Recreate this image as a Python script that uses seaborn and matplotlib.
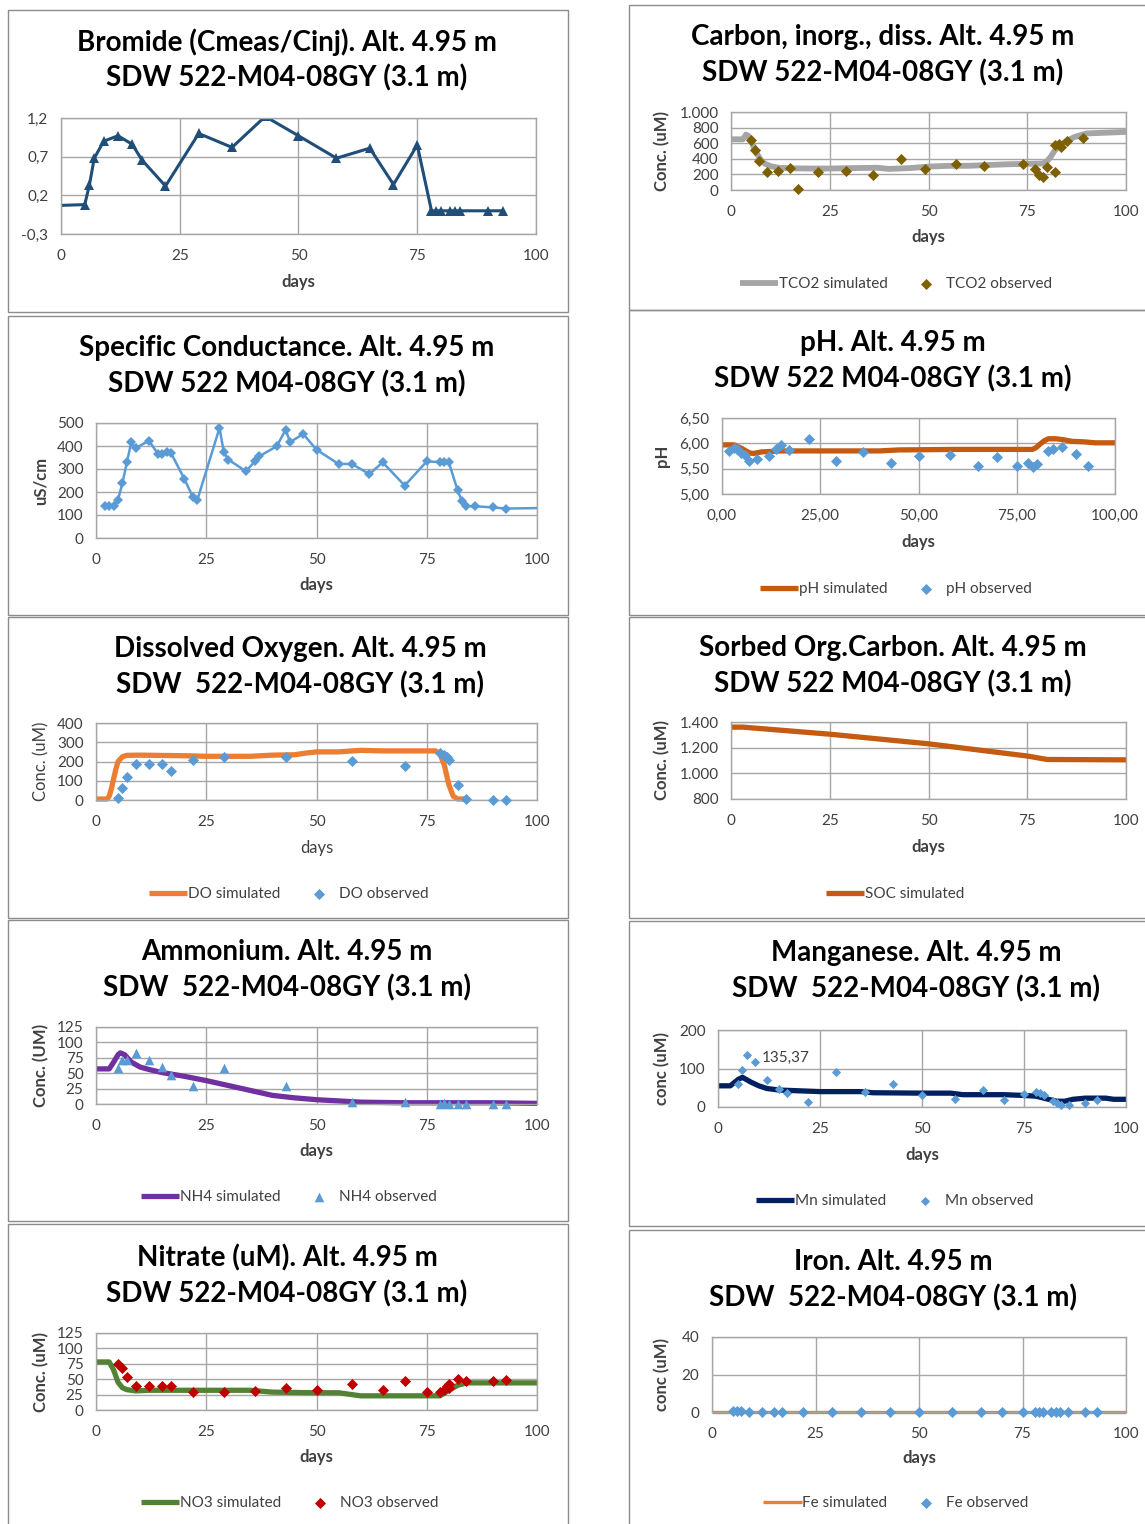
import matplotlib
matplotlib.use("Agg")
import matplotlib.pyplot as plt
import seaborn as sns
from matplotlib.patches import Rectangle

# ---------------- data ----------------
# Bromide (Cmeas/Cinj)
br_day = [0, 5, 6, 7, 9, 12, 15, 17, 22, 29, 36, 43, 50, 58, 65, 70, 75, 78, 79, 80, 82, 83, 84, 90, 93]
br_val = [0.07, 0.08, 0.34, 0.68, 0.90, 0.97, 0.86, 0.66, 0.32, 1.00, 0.82, 1.22, 0.97, 0.68, 0.81, 0.34,
          0.85, 0.0, 0.0, 0.0, 0.0, 0.0, 0.0, 0.0, 0.0]

# Specific conductance (uS/cm)
sc_day = [2, 3, 4, 5, 6, 7, 8, 9, 12, 14, 15, 16, 17, 20, 22, 23, 28, 29, 30, 34, 36, 37, 41, 43, 44, 47,
          50, 55, 58, 62, 65, 70, 75, 78, 79, 80, 82, 83, 84, 86, 90, 93, 100]
sc_val = [141, 138, 141, 167, 239, 329, 416, 391, 423, 367, 367, 372, 370, 258, 177, 167, 478, 372, 341,
          290, 333, 355, 399, 471, 417, 452, 384, 322, 322, 278, 329, 228, 333, 330, 329, 329, 207, 159,
          138, 138, 133, 128, 130]

# Dissolved inorganic carbon (uM)
tco2_sim_day = [0, 3, 3.8, 4.5, 5.5, 6.5, 7.5, 8.5, 10, 12, 15, 20, 25, 30, 37, 40, 45, 50, 55, 60, 65, 70,
                75, 79, 80, 81, 82, 83, 85, 87, 90, 95, 100]
tco2_sim_val = [650, 650, 710, 690, 580, 470, 390, 340, 305, 285, 278, 275, 275, 280, 285, 270, 280, 300,
                310, 310, 320, 330, 335, 340, 370, 430, 510, 560, 630, 680, 725, 735, 745]
tco2_obs_day = [5, 6, 7, 9, 12, 15, 17, 22, 29, 36, 43, 49, 57, 64, 74, 77, 78, 79, 80, 82, 82, 83, 83.5,
                85, 89]
tco2_obs_val = [635, 515, 378, 236, 245, 279, 15, 227, 245, 193, 395, 270, 330, 309, 330, 270, 193, 172,
                300, 580, 236, 592, 549, 622, 665]

# pH
ph_sim_day = [0, 3, 5, 7, 8, 10, 15, 25, 40, 45, 60, 79, 80, 81, 82, 83, 85, 87, 89, 92, 95, 100]
ph_sim_val = [5.97, 5.97, 5.90, 5.81, 5.80, 5.83, 5.85, 5.85, 5.85, 5.87, 5.88, 5.88, 5.92, 5.99, 6.05,
              6.09, 6.09, 6.07, 6.04, 6.03, 6.01, 6.01]
ph_obs_day = [1.8, 3, 3.8, 4.8, 5.8, 6.8, 8.9, 12, 13.8, 15.1, 17, 22.2, 29.1, 35.9, 43.1, 50.2, 58.1,
              65.2, 70, 75.1, 77.9, 79.2, 80.2, 83, 84.3, 86.4, 90.1, 93.2]
ph_obs_val = [5.84, 5.90, 5.88, 5.80, 5.77, 5.66, 5.69, 5.75, 5.88, 5.97, 5.86, 6.09, 5.66, 5.82, 5.61,
              5.75, 5.76, 5.55, 5.73, 5.55, 5.61, 5.54, 5.59, 5.84, 5.88, 5.92, 5.79, 5.56]

# Dissolved oxygen (uM)
do_sim_day = [0, 2.5, 3, 3.5, 4, 4.5, 5, 6, 7, 10, 20, 25, 35, 40, 45, 48, 50, 55, 60, 65, 77, 78, 79,
              80, 81, 82, 84]
do_sim_val = [5, 5, 20, 60, 110, 160, 200, 225, 232, 233, 230, 227, 227, 233, 235, 245, 250, 250, 258,
              255, 255, 240, 180, 80, 20, 5, 5]
do_obs_day = [5, 6, 7, 9, 12, 15, 17, 22, 29, 43, 58, 70, 78, 79, 79.6, 80, 82, 84, 90, 93]
do_obs_val = [9, 64, 122, 186, 186, 186, 151, 207, 224, 224, 203, 177, 242, 235, 224, 207, 78, 3, 2, 2]

# Sorbed organic carbon (uM)
soc_day = [0, 3, 25, 50, 75, 80, 100]
soc_val = [1360, 1360, 1305, 1230, 1135, 1108, 1105]

# Ammonium (uM)
nh4_sim_day = [0, 3, 4, 5, 5.5, 6.5, 8, 10, 12, 15, 20, 25, 30, 35, 40, 45, 50, 55, 60, 70, 80, 90, 100]
nh4_sim_val = [57, 57, 68, 80, 83, 80, 68, 60, 56, 51, 45, 38, 30, 22, 14, 10, 7, 5, 3, 2, 2, 2, 1]
nh4_obs_day = [5, 6, 7, 9, 12, 15, 17, 22, 29, 43, 58, 70, 78, 79, 80, 82, 84, 90, 93]
nh4_obs_val = [59, 72, 71, 83, 71, 60, 47, 30, 59, 29, 4, 3, 0, 2, 0, 0, 0, 0, 0]

# Manganese (uM)
mn_sim_day = [0, 3, 5, 6, 8, 10, 12, 15, 20, 25, 35, 38, 50, 57, 60, 70, 75, 78, 81, 83, 85, 87, 90, 95,
              97, 100]
mn_sim_val = [55, 55, 72, 77, 65, 55, 48, 44, 42, 40, 40, 37, 36, 36, 32, 32, 30, 28, 20, 15, 15, 20, 23,
              23, 20, 20]
mn_obs_day = [5, 6, 7, 9, 12, 15, 17, 22, 29, 36, 43, 50, 58, 65, 70, 75, 78, 79, 80, 82, 83, 84, 86, 90,
              93]
mn_obs_val = [59, 97, 135.37, 116, 71, 47, 36, 12, 91, 38, 60, 30, 21, 43, 19, 34, 40, 36, 32, 16, 10, 5,
              5, 10, 19]

# Nitrate (uM)
no3_sim_day = [0, 3, 4, 5, 6, 7, 9, 12, 20, 35, 40, 50, 55, 58, 60, 70, 78, 80, 82, 84, 100]
no3_sim_val = [78, 78, 65, 45, 36, 33, 31, 32, 32, 32, 29, 28, 28, 25, 23, 23, 23, 32, 40, 44, 44]
no3_obs_day = [5, 6, 7, 9, 12, 15, 17, 22, 29, 36, 43, 50, 58, 65, 70, 75, 78, 79, 79.5, 80, 80, 82, 84,
               90, 93]
no3_obs_val = [75, 68, 54, 39, 39, 39, 39, 29, 29, 31, 36, 33, 43, 33, 47, 29, 29, 33, 39, 35, 43, 51, 47,
               47, 49]

# Iron (uM)
fe_sim_day = [0, 100]
fe_sim_val = [0, 0]
fe_obs_day = [5, 6, 7, 9, 12, 15, 17, 22, 29, 36, 43, 50, 58, 65, 70, 75, 78, 79, 80, 82, 83, 84, 86, 90,
              93]
fe_obs_val = [0.3] * 3 + [0.2] * 22

# ---------------- figure ----------------
sns.set_style("white")
plt.rcParams['font.family'] = ['Lato', 'DejaVu Sans']

W, H = 1145, 1524
fig = plt.figure(figsize=(W / 100, H / 100), dpi=100)

GRID = '#a6a6a6'
TXT = '#404040'


def fx(x):
    return x / W


def fy(y):
    return 1 - y / H


def frame(x0, y0, x1, y1):
    fig.patches.append(Rectangle((fx(x0), fy(y1)), fx(x1) - fx(x0), fy(y0) - fy(y1),
                                 transform=fig.transFigure, fill=False,
                                 edgecolor='#8c8c8c', lw=1.0))


def titles(cx, y1, y2, l1, l2):
    fig.text(fx(cx), fy(y1), l1, ha='center', va='center', fontsize=20, fontweight='bold', color='black')
    fig.text(fx(cx), fy(y2), l2, ha='center', va='center', fontsize=20, fontweight='bold', color='black')


def make_ax(x0, y0, x1, y1, ylim, yticks, ylabels, xlabels=None):
    ax = fig.add_axes([fx(x0), fy(y1), fx(x1) - fx(x0), fy(y0) - fy(y1)])
    ax.set_xlim(0, 100)
    ax.set_ylim(*ylim)
    ax.set_xticks([0, 25, 50, 75, 100])
    ax.set_xticklabels(xlabels or ['0', '25', '50', '75', '100'])
    ax.set_yticks(yticks)
    ax.set_yticklabels(ylabels)
    ax.grid(True, color=GRID, lw=1)
    ax.set_axisbelow(True)
    for s in ax.spines.values():
        s.set_color(GRID)
        s.set_linewidth(1)
    ax.tick_params(length=0, labelsize=11, labelcolor=TXT)
    ax.tick_params(axis='x', pad=11)
    ax.tick_params(axis='y', pad=9)
    ax.set_xlabel('')
    ax.set_ylabel('')
    return ax


def labels(ax_x0, ax_x1, ax_y0, ax_y1, ylab_x, xlab_y, ylab, bold=True):
    w = 'bold' if bold else 'normal'
    fig.text(fx((ax_x0 + ax_x1) / 2), fy(xlab_y), 'days', ha='center', va='center',
             fontsize=12, fontweight=w, color=TXT)
    if ylab:
        fig.text(fx(ylab_x), fy((ax_y0 + ax_y1) / 2), ylab, ha='center', va='center', rotation=90,
                 fontsize=12, fontweight=w, color=TXT)


def legend(ax, cx, cy):
    h, l = ax.get_legend_handles_labels()
    ax.legend(h, l, loc='center', bbox_to_anchor=(fx(cx), fy(cy)), bbox_transform=fig.transFigure,
              ncol=len(h), frameon=False, fontsize=11, handlelength=2.5, handletextpad=0.05,
              columnspacing=1.3, labelcolor=TXT)


def sim(ax, d, v, color, label, lw=3.8):
    sns.lineplot(x=d, y=v, ax=ax, color=color, lw=lw, label=label, estimator=None, sort=False,
                 clip_on=False, solid_capstyle='butt')


def obs(ax, d, v, color, label, marker='D', s=32):
    sns.scatterplot(x=d, y=v, ax=ax, color=color, marker=marker, s=s, linewidth=0, label=label,
                    clip_on=False, zorder=5)


# panel frames
for box in [(8, 10, 568, 312), (8, 316, 568, 615), (8, 617, 568, 918), (8, 920, 568, 1221),
            (8, 1224, 568, 1530), (629, 5, 1150, 310), (629, 310, 1150, 615), (629, 617, 1150, 918),
            (629, 921, 1150, 1226), (629, 1230, 1150, 1530)]:
    frame(*box)

# 1. Bromide
titles(287, 42, 78, 'Bromide (Cmeas/Cinj). Alt. 4.95 m', 'SDW 522-M04-08GY (3.1 m)')
ax = make_ax(61, 118, 536, 234, (-0.3, 1.2), [-0.3, 0.2, 0.7, 1.2], ['-0,3', '0,2', '0,7', '1,2'])
sns.lineplot(x=br_day, y=br_val, ax=ax, color='#1f4e79', lw=2.2, marker='^', markersize=7.5,
             markeredgewidth=0, markevery=list(range(1, len(br_day))), estimator=None, sort=False)
labels(61, 536, 118, 234, None, 282, None)
if ax.get_legend():
    ax.get_legend().remove()

# 2. Dissolved inorganic carbon
titles(883, 37, 73, 'Carbon, inorg., diss. Alt. 4.95 m', 'SDW 522-M04-08GY (3.1 m)')
ax = make_ax(731, 112, 1126, 190, (0, 1000), [0, 200, 400, 600, 800, 1000],
             ['0', '200', '400', '600', '800', '1.000'])
sim(ax, tco2_sim_day, tco2_sim_val, '#a5a5a5', 'TCO2 simulated', lw=4.2)
obs(ax, tco2_obs_day, tco2_obs_val, '#7f6000', 'TCO2 observed')
labels(731, 1126, 112, 190, 662, 237, 'Conc. (uM)')
legend(ax, 896, 284)

# 3. Specific conductance
titles(287, 348, 384, 'Specific Conductance. Alt. 4.95 m', 'SDW 522 M04-08GY (3.1 m)')
ax = make_ax(96, 423, 537, 538, (0, 500), [0, 100, 200, 300, 400, 500],
             ['0', '100', '200', '300', '400', '500'])
sns.lineplot(x=sc_day, y=sc_val, ax=ax, color='#5b9bd5', lw=1.8, marker='D', markersize=5.5,
             markeredgewidth=0, markevery=list(range(len(sc_day) - 1)), estimator=None, sort=False)
labels(96, 537, 423, 538, 41, 585, 'uS/cm')
if ax.get_legend():
    ax.get_legend().remove()

# 4. pH
titles(893, 343, 379, 'pH. Alt. 4.95 m', 'SDW 522 M04-08GY (3.1 m)')
ax = make_ax(722, 418, 1115, 494, (5.0, 6.5), [5.0, 5.5, 6.0, 6.5], ['5,00', '5,50', '6,00', '6,50'],
             ['0,00', '25,00', '50,00', '75,00', '100,00'])
sim(ax, ph_sim_day, ph_sim_val, '#c55a11', 'pH simulated')
obs(ax, ph_obs_day, ph_obs_val, '#5b9bd5', 'pH observed')
labels(722, 1115, 418, 494, 662, 542, 'pH')
legend(ax, 896, 589)

# 5. Dissolved oxygen
titles(300, 649, 685, 'Dissolved Oxygen. Alt. 4.95 m', 'SDW  522-M04-08GY (3.1 m)')
ax = make_ax(96, 723, 537, 800, (0, 400), [0, 100, 200, 300, 400], ['0', '100', '200', '300', '400'])
sim(ax, do_sim_day, do_sim_val, '#ed7d31', 'DO simulated')
obs(ax, do_obs_day, do_obs_val, '#5b9bd5', 'DO observed')
labels(96, 537, 723, 800, 41, 848, 'Conc. (uM)', bold=False)
legend(ax, 289, 894)

# 6. Sorbed organic carbon
titles(893, 648, 684, 'Sorbed Org.Carbon. Alt. 4.95 m', 'SDW 522 M04-08GY (3.1 m)')
ax = make_ax(731, 722, 1126, 799, (800, 1400), [800, 1000, 1200, 1400], ['800', '1.000', '1.200', '1.400'])
sim(ax, soc_day, soc_val, '#c55a11', 'SOC simulated')
labels(731, 1126, 722, 799, 662, 847, 'Conc. (uM)')
legend(ax, 895, 894)

# 7. Ammonium
titles(287, 952, 988, 'Ammonium. Alt. 4.95 m', 'SDW  522-M04-08GY (3.1 m)')
ax = make_ax(96, 1027, 537, 1104, (0, 125), [0, 25, 50, 75, 100, 125],
             ['0', '25', '50', '75', '100', '125'])
sim(ax, nh4_sim_day, nh4_sim_val, '#7030a0', 'NH4 simulated')
obs(ax, nh4_obs_day, nh4_obs_val, '#5b9bd5', 'NH4 observed', marker='^', s=48)
labels(96, 537, 1027, 1104, 41, 1151, 'Conc. (UM)')
legend(ax, 289, 1197)

# 8. Manganese
titles(916, 953, 989, 'Manganese. Alt. 4.95 m', 'SDW  522-M04-08GY (3.1 m)')
ax = make_ax(718, 1030, 1126, 1107, (0, 200), [0, 100, 200], ['0', '100', '200'])
sim(ax, mn_sim_day, mn_sim_val, '#002060', 'Mn simulated')
obs(ax, mn_obs_day, mn_obs_val, '#5b9bd5', 'Mn observed', s=22)
i_max = mn_obs_val.index(max(mn_obs_val))
ax.annotate(f'{mn_obs_val[i_max]:.2f}'.replace('.', ','), (mn_obs_day[i_max], mn_obs_val[i_max]),
            xytext=(11, -2), textcoords='offset points', fontsize=11, color=TXT, va='center')
labels(718, 1126, 1030, 1107, 662, 1155, 'conc (uM)')
legend(ax, 895, 1201)

# 9. Nitrate
titles(287, 1258, 1294, 'Nitrate (uM). Alt. 4.95 m', 'SDW 522-M04-08GY (3.1 m)')
ax = make_ax(96, 1333, 537, 1410, (0, 125), [0, 25, 50, 75, 100, 125],
             ['0', '25', '50', '75', '100', '125'])
sim(ax, no3_sim_day, no3_sim_val, '#548235', 'NO3 simulated')
obs(ax, no3_obs_day, no3_obs_val, '#c00000', 'NO3 observed')
labels(96, 537, 1333, 1410, 41, 1457, 'Conc. (uM)')
legend(ax, 290, 1503)

# 10. Iron
titles(893, 1262, 1298, 'Iron. Alt. 4.95 m', 'SDW  522-M04-08GY (3.1 m)')
ax = make_ax(712, 1337, 1126, 1412, (0, 40), [0, 20, 40], ['0', '20', '40'])
sim(ax, fe_sim_day, fe_sim_val, '#ed7d31', 'Fe simulated', lw=2.4)
obs(ax, fe_obs_day, fe_obs_val, '#5b9bd5', 'Fe observed')
labels(712, 1126, 1337, 1412, 662, 1458, 'conc (uM)')
legend(ax, 896, 1503)

fig.savefig('out.png', dpi=100)
